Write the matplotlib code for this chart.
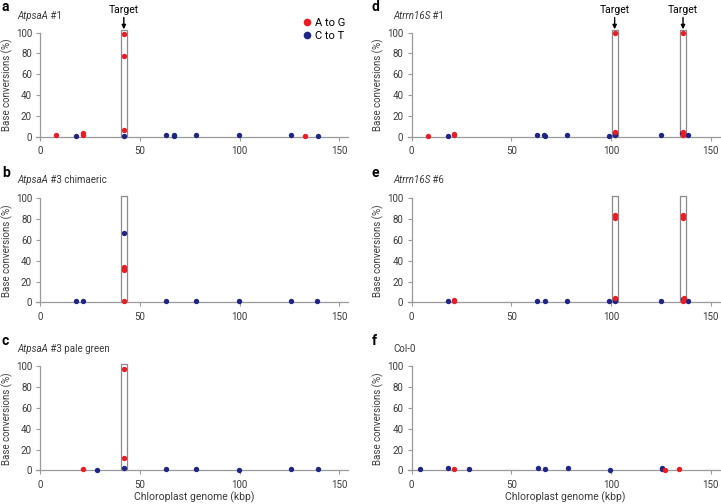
import matplotlib
matplotlib.use("Agg")
import matplotlib.pyplot as plt
from matplotlib.patches import Rectangle
from matplotlib.lines import Line2D

plt.rcParams['font.family'] = ['Roboto', 'DejaVu Sans']

RED = '#ec1c24'
BLUE = '#1f2584'
GRAY = '#9a9a9a'
TXT = '#3a3a3a'

# ---- data (kbp, %) ----
a_ag_x = [8, 21.4, 21.4, 42, 42, 42, 133]
a_ag_y = [1.5, 1.5, 3, 99, 77.5, 6, 0.5]
a_ct_x = [18, 42, 63.2, 66.9, 67.3, 78.3, 99.5, 126, 139.3]
a_ct_y = [1, 1, 1.5, 1.5, 1, 1.5, 1.5, 2, 1]

b_ag_x = [42, 42, 42.2, 42]
b_ag_y = [34, 32.5, 31, 1.2]
b_ct_x = [18, 21.4, 42, 63, 78.2, 99.5, 125.6, 139]
b_ct_y = [1, 1.5, 66.3, 1, 1.2, 1, 1, 1.2]

c_ag_x = [21.4, 42, 42]
c_ag_y = [1.5, 97, 12.3]
c_ct_x = [28.6, 42, 63.3, 78.3, 99.5, 126, 139.4]
c_ct_y = [0.5, 2.4, 1, 1, 0.5, 1, 1]

d_ag_x = [8, 21.3, 21.3, 102, 102, 136, 136, 136.3]
d_ag_y = [1, 1.2, 2.5, 100, 4.5, 100, 4, 1.5]
d_ct_x = [18, 63, 66.3, 67, 78, 99.2, 101.8, 102, 125.3, 135.8, 138.8]
d_ct_y = [1, 2, 1.5, 1, 1.5, 1, 3, 1.5, 2, 3, 1.5]

e_ag_x = [21.3, 21.3, 102, 102, 101.8, 136.2, 136.2, 136.5, 136]
e_ag_y = [1.5, 2.5, 84, 81.5, 4, 84, 81.5, 4.5, 1]
e_ct_x = [18, 63, 66.7, 78, 99.2, 102, 102.2, 125.3, 136, 138.8]
e_ct_y = [1, 1.5, 1.5, 1.2, 1, 3, 1, 1.2, 3.5, 1]

f_ag_x = [21.4, 127.3, 134]
f_ag_y = [1.5, 0.5, 1.5]
f_ct_x = [4.2, 18, 28.6, 63.3, 66.8, 78.2, 99.3, 125.6, 125.8]
f_ct_y = [1, 2, 1, 2.5, 1.5, 2.5, 0.5, 2.5, 1]

# target windows (start, end) in kbp
a_boxes = [(40.5, 43.3)]
d_boxes = [(100.3, 103.3), (134.7, 137.5)]

panels = [
    ('a', 'AtpsaA', ' #1', a_ag_x, a_ag_y, a_ct_x, a_ct_y, a_boxes, True, 0, 0),
    ('b', 'AtpsaA', ' #3 chimaeric', b_ag_x, b_ag_y, b_ct_x, b_ct_y, a_boxes, False, 0, 1),
    ('c', 'AtpsaA', ' #3 pale green', c_ag_x, c_ag_y, c_ct_x, c_ct_y, a_boxes, False, 0, 2),
    ('d', 'Atrrn16S', ' #1', d_ag_x, d_ag_y, d_ct_x, d_ct_y, d_boxes, True, 1, 0),
    ('e', 'Atrrn16S', ' #6', e_ag_x, e_ag_y, e_ct_x, e_ct_y, d_boxes, False, 1, 1),
    ('f', 'Col-0', '', f_ag_x, f_ag_y, f_ct_x, f_ct_y, [], False, 1, 2),
]

W, H = 721, 504
fig = plt.figure(figsize=(W / 100, H / 100), dpi=100)

col_left = [36.3, 407.7]
col_width = 312.0
row_zero = [136.6, 302.3, 470.3]
row_h = 104.0

xticks = [0, 50, 100, 150]
yticks = [0, 20, 40, 60, 80, 100]

for (letter, tit_it, tit_rest, agx, agy, ctx, cty, boxes, show_target, col, row) in panels:
    left = col_left[col] / W
    bottom = (H - row_zero[row]) / H
    ax = fig.add_axes([left, bottom, col_width / W, row_h / H])
    ax.set_xlim(-2, 154.5)
    ax.set_ylim(0, 100)
    for s in ['top', 'right']:
        ax.spines[s].set_visible(False)
    ax.spines['left'].set_position(('data', 0))
    for s in ['left', 'bottom']:
        ax.spines[s].set_color(GRAY)
        ax.spines[s].set_linewidth(0.9)
    ax.set_xticks(xticks)
    ax.set_yticks(yticks)
    ax.tick_params(axis='both', colors=GRAY, labelcolor=TXT, labelsize=7,
                   length=3, width=0.8, direction='out', pad=3)
    ax.tick_params(axis='x', pad=4)
    ax.patch.set_visible(False)

    for (x0, x1) in boxes:
        ax.add_patch(Rectangle((x0, 0), x1 - x0, 102.3, facecolor='white',
                               edgecolor='#8a8a8a', linewidth=0.9, zorder=2,
                               clip_on=False))
        if show_target:
            xc = (x0 + x1) / 2
            ax.annotate('', xy=(xc, 103.2), xytext=(xc, 114.5),
                        arrowprops=dict(arrowstyle='-|>', color='black', lw=1.0,
                                        mutation_scale=6, shrinkA=0, shrinkB=0),
                        annotation_clip=False)
            ax.text(xc, 116.5, 'Target', ha='center', va='bottom', fontsize=7.5,
                    color='black', clip_on=False)

    ax.scatter(ctx, cty, s=15, color=BLUE, linewidths=0, zorder=4, clip_on=False)
    ax.scatter(agx, agy, s=15, color=RED, linewidths=0, zorder=5, clip_on=False)

    # panel letter
    lx = 2 if col == 0 else 372
    ly = [0, 166, 334][row]
    fig.text(lx / W, 1 - ly / H, letter, fontsize=10, fontweight='bold',
             ha='left', va='top', color='black')
    # title
    tx = 17 if col == 0 else 393
    ty = [16, 180, 349][row]
    if tit_it == 'Col-0':
        fig.text(tx / W, 1 - ty / H, 'Col-0', fontsize=7, ha='left', va='center', color=TXT)
    else:
        t1 = fig.text(tx / W, 1 - ty / H, tit_it, fontsize=7, style='italic',
                      ha='left', va='center', color=TXT)
        fig.canvas.draw()
        bb = t1.get_window_extent()
        fig.text(bb.x1 / W, 1 - ty / H, tit_rest, fontsize=7, ha='left',
                 va='center', color=TXT)
    # y label
    ylx = 7 if col == 0 else 378
    fig.text(ylx / W, 1 - (row_zero[row] - 52) / H, 'Base conversions (%)',
             rotation=90, fontsize=7, ha='center', va='center', color=TXT)
    if row == 2:
        xlc = 194 if col == 0 else 565
        fig.text(xlc / W, 1 - 497 / H, 'Chloroplast genome (kbp)', fontsize=7.5,
                 ha='center', va='center', color=TXT)
    if letter == 'a':
        handles = [Line2D([], [], marker='o', linestyle='none', color=RED, markersize=5.5,
                          markeredgewidth=0),
                   Line2D([], [], marker='o', linestyle='none', color=BLUE, markersize=5.5,
                          markeredgewidth=0)]
        ax.legend(handles, ['A to G', 'C to T'], loc='upper left',
                  bbox_to_anchor=(304 / W, 1 - 18 / H), bbox_transform=fig.transFigure,
                  frameon=False, fontsize=8, handlelength=0.6, handletextpad=0.4,
                  labelspacing=0.25, borderpad=0, borderaxespad=0)

fig.savefig('out.png', dpi=100)
